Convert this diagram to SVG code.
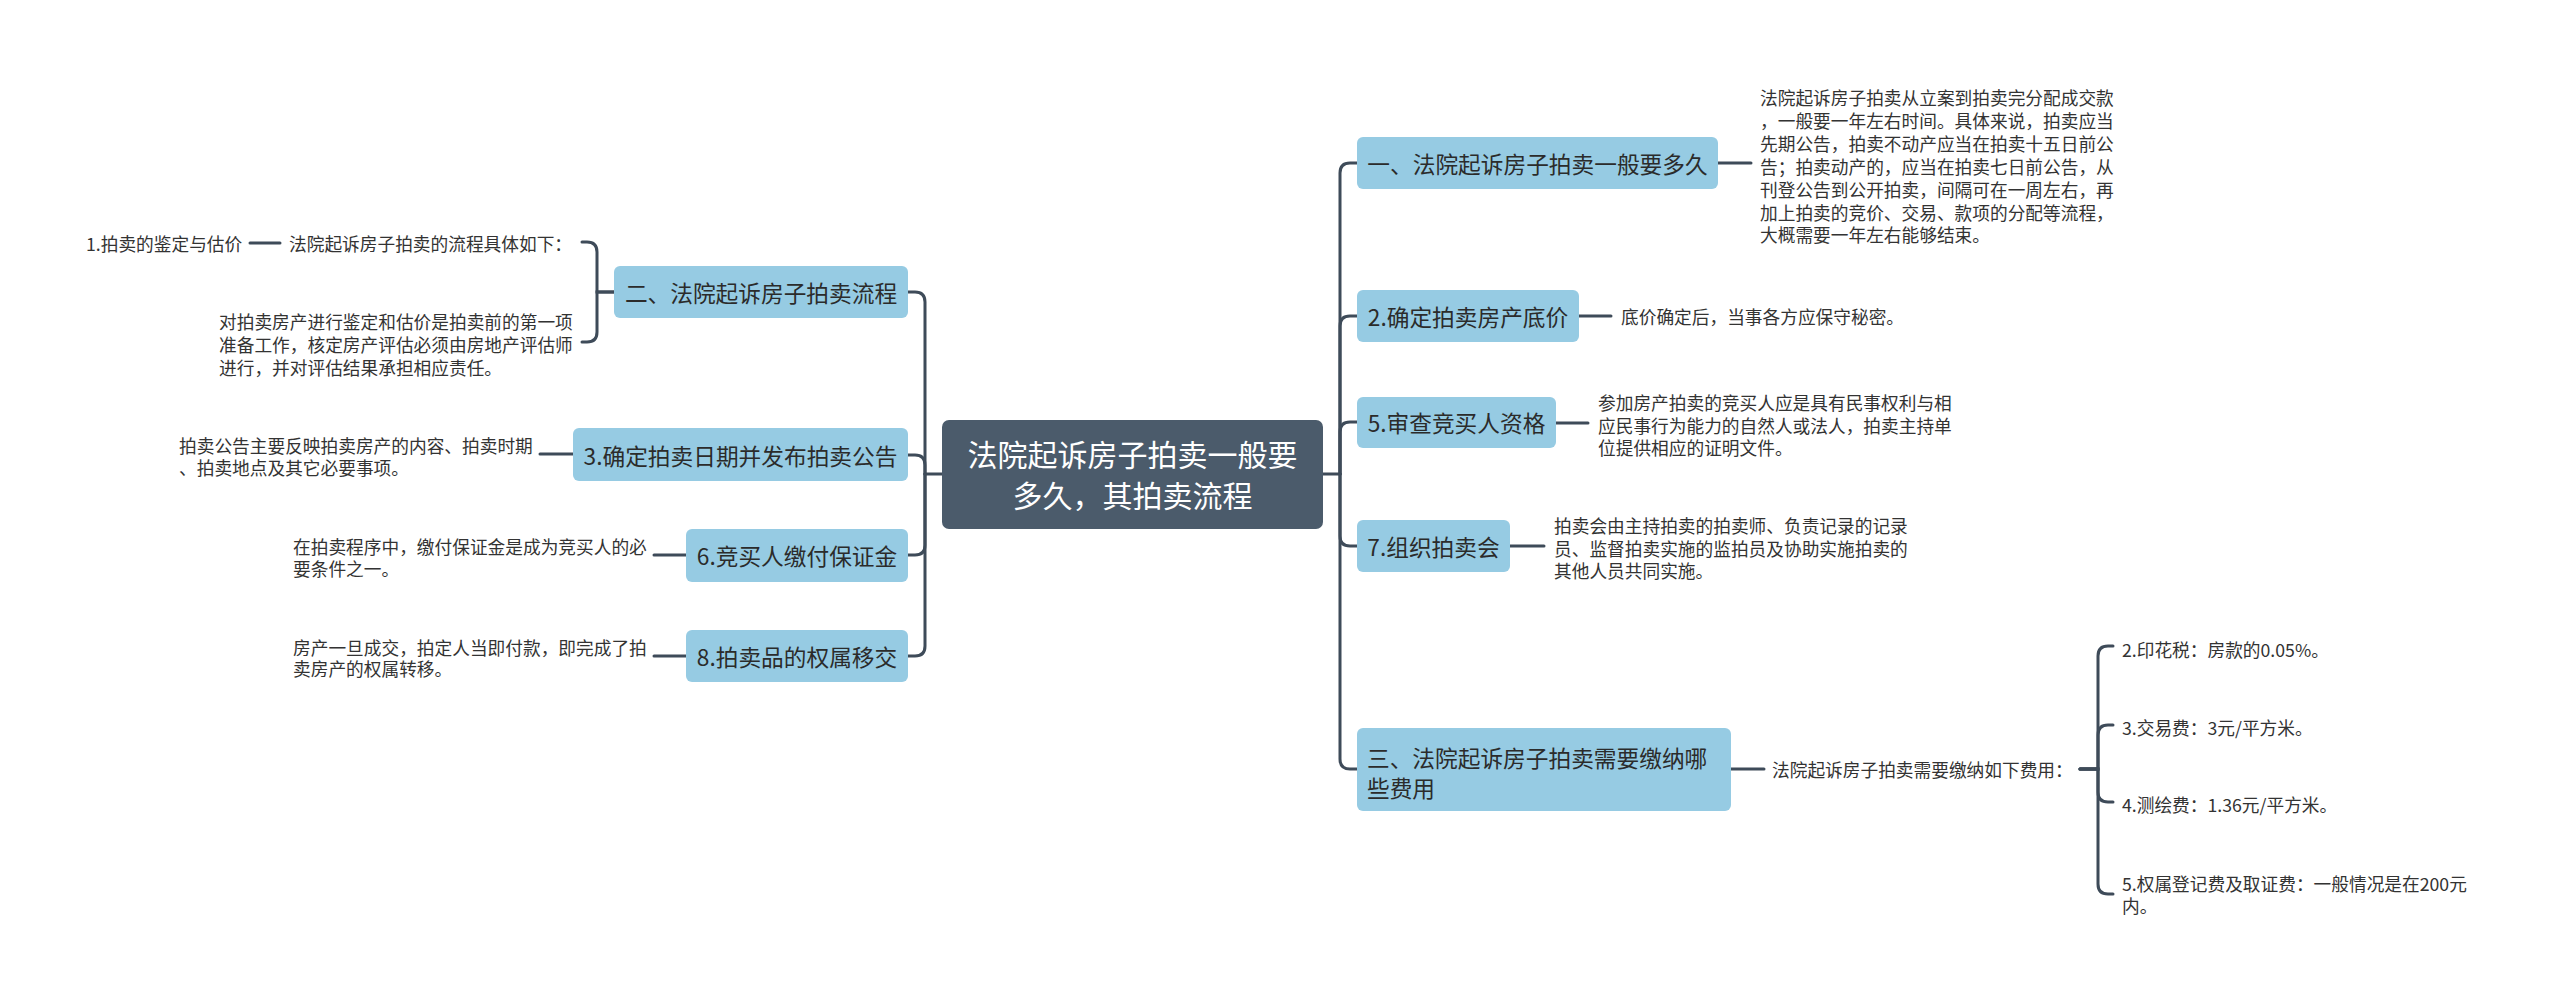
<svg xmlns="http://www.w3.org/2000/svg" width="2560" height="999" viewBox="0 0 2560 999">
<defs>
<style>
text{font-family:"Noto Sans CJK SC","Noto Sans",sans-serif;dominant-baseline:central;}
.n rect{fill:#96CBE3;}
.n text{font-size:22.7px;fill:#2b2b2b;text-anchor:middle;}
.t{font-size:17.7px;fill:#333333;}
.c{fill:none;stroke:#3E4B59;stroke-width:3;stroke-linecap:round;}
</style>
</defs>
<rect width="2560" height="999" fill="#ffffff"/>
<g id="connectors" class="c">
<path d="M942 474 H925"/>
<path d="M925 474 V302 Q925 292 915 292 H908"/>
<path d="M925 474 V465 Q925 455 915 455 H908"/>
<path d="M925 474 V545 Q925 555 915 555 H908"/>
<path d="M925 474 V646 Q925 656 915 656 H908"/>
<path d="M1323 474 H1340"/>
<path d="M1340 474 V173 Q1340 163 1350 163 H1357"/>
<path d="M1340 474 V326 Q1340 316 1350 316 H1357"/>
<path d="M1340 474 V432 Q1340 422 1350 422 H1357"/>
<path d="M1340 474 V536 Q1340 546 1350 546 H1357"/>
<path d="M1340 474 V759 Q1340 769 1350 769 H1357"/>
<path d="M614 292 H597 V252 Q597 242 587 242 H582"/>
<path d="M614 292 H597 V332 Q597 342 587 342 H582"/>
<path d="M250 243 H280"/>
<path d="M573 454 H540"/>
<path d="M686 555 H654"/>
<path d="M686 656 H654"/>
<path d="M1718 163 H1751"/>
<path d="M1579 316 H1611"/>
<path d="M1556 423 H1588"/>
<path d="M1510 546 H1544"/>
<path d="M1731 769 H1764"/>
<path d="M2080 769 H2098 V656 Q2098 646 2108 646 H2113"/>
<path d="M2080 769 H2098 V735 Q2098 725 2108 725 H2113"/>
<path d="M2080 769 H2098 V792 Q2098 802 2108 802 H2113"/>
<path d="M2080 769 H2098 V884 Q2098 894 2108 894 H2113"/>
</g>
<g id="center">
<rect x="942" y="420" width="381" height="109" rx="7" fill="#4B5B6B"/>
<text x="1132.5" y="453" font-size="30" fill="#ffffff" text-anchor="middle">法院起诉房子拍卖一般要</text>
<text x="1132.5" y="494" font-size="30" fill="#ffffff" text-anchor="middle">多久，其拍卖流程</text>
</g>
<g id="n2" class="n"><rect x="614" y="266" width="294" height="52" rx="6"/><text x="761" y="292">二、法院起诉房子拍卖流程</text></g>
<g id="n3" class="n"><rect x="573" y="428" width="335" height="53" rx="6"/><text x="740.5" y="455">3.确定拍卖日期并发布拍卖公告</text></g>
<g id="n6" class="n"><rect x="686" y="529" width="222" height="53" rx="6"/><text x="797" y="555">6.竞买人缴付保证金</text></g>
<g id="n8" class="n"><rect x="686" y="630" width="222" height="52" rx="6"/><text x="797" y="656">8.拍卖品的权属移交</text></g>
<g id="n1" class="n"><rect x="1357" y="137" width="361" height="52" rx="6"/><text x="1537.5" y="163">一、法院起诉房子拍卖一般要多久</text></g>
<g id="nb2" class="n"><rect x="1357" y="290" width="222" height="52" rx="6"/><text x="1468" y="316">2.确定拍卖房产底价</text></g>
<g id="n5" class="n"><rect x="1357" y="397" width="199" height="51" rx="6"/><text x="1456.5" y="422">5.审查竞买人资格</text></g>
<g id="n7" class="n"><rect x="1357" y="520" width="153" height="52" rx="6"/><text x="1433.5" y="546">7.组织拍卖会</text></g>
<g id="n3r" class="n"><rect x="1357" y="728" width="374" height="83" rx="6"/><text x="1367" y="757" style="text-anchor:start">三、法院起诉房子拍卖需要缴纳哪</text><text x="1367" y="787" style="text-anchor:start">些费用</text></g>
<g id="l-n2a"><text class="t" x="289" y="243">法院起诉房子拍卖的流程具体如下：</text></g>
<g id="l-n2a1"><text class="t" x="86" y="243">1.拍卖的鉴定与估价</text></g>
<g id="l-n2b"><text class="t" x="219" y="321">对拍卖房产进行鉴定和估价是拍卖前的第一项</text><text class="t" x="219" y="344">准备工作，核定房产评估必须由房地产评估师</text><text class="t" x="219" y="367">进行，并对评估结果承担相应责任。</text></g>
<g id="l-n3"><text class="t" x="179" y="445">拍卖公告主要反映拍卖房产的内容、拍卖时期</text><text class="t" x="179" y="467">、拍卖地点及其它必要事项。</text></g>
<g id="l-n6"><text class="t" x="293" y="546">在拍卖程序中，缴付保证金是成为竞买人的必</text><text class="t" x="293" y="568">要条件之一。</text></g>
<g id="l-n8"><text class="t" x="293" y="647">房产一旦成交，拍定人当即付款，即完成了拍</text><text class="t" x="293" y="668">卖房产的权属转移。</text></g>
<g id="l-n1"><text class="t" x="1760" y="97">法院起诉房子拍卖从立案到拍卖完分配成交款</text><text class="t" x="1760" y="120">，一般要一年左右时间。具体来说，拍卖应当</text><text class="t" x="1760" y="143">先期公告，拍卖不动产应当在拍卖十五日前公</text><text class="t" x="1760" y="166">告；拍卖动产的，应当在拍卖七日前公告，从</text><text class="t" x="1760" y="188.5">刊登公告到公开拍卖，间隔可在一周左右，再</text><text class="t" x="1760" y="211.5">加上拍卖的竞价、交易、款项的分配等流程，</text><text class="t" x="1760" y="234">大概需要一年左右能够结束。</text></g>
<g id="l-nb2"><text class="t" x="1621" y="316">底价确定后，当事各方应保守秘密。</text></g>
<g id="l-n5"><text class="t" x="1598" y="402">参加房产拍卖的竞买人应是具有民事权利与相</text><text class="t" x="1598" y="425">应民事行为能力的自然人或法人，拍卖主持单</text><text class="t" x="1598" y="447">位提供相应的证明文件。</text></g>
<g id="l-n7"><text class="t" x="1554" y="525">拍卖会由主持拍卖的拍卖师、负责记录的记录</text><text class="t" x="1554" y="548">员、监督拍卖实施的监拍员及协助实施拍卖的</text><text class="t" x="1554" y="570">其他人员共同实施。</text></g>
<g id="l-n3r"><text class="t" x="1772" y="769">法院起诉房子拍卖需要缴纳如下费用：</text></g>
<g id="l-f2"><text class="t" x="2122" y="649">2.印花税：房款的0.05%。</text></g>
<g id="l-f3"><text class="t" x="2122" y="727">3.交易费：3元/平方米。</text></g>
<g id="l-f4"><text class="t" x="2122" y="804">4.测绘费：1.36元/平方米。</text></g>
<g id="l-f5"><text class="t" x="2122" y="883">5.权属登记费及取证费：一般情况是在200元</text><text class="t" x="2122" y="905">内。</text></g>
</svg>
